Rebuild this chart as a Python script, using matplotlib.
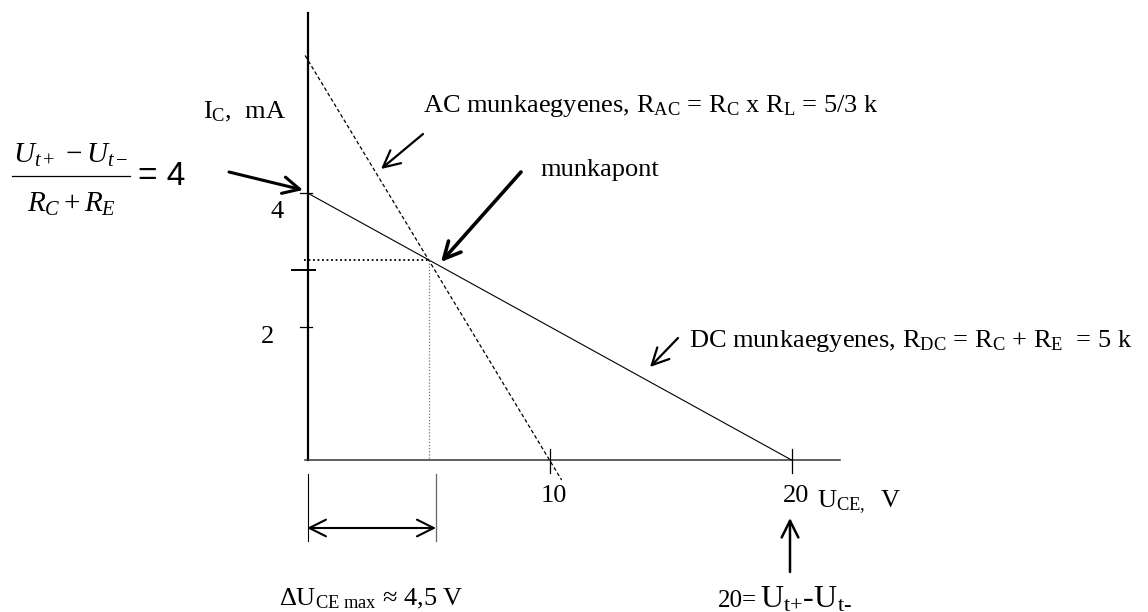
import matplotlib.pyplot as plt
import numpy as np

plt.rcParams['font.family'] = 'Liberation Serif'
plt.rcParams['mathtext.fontset'] = 'custom'
plt.rcParams['mathtext.rm'] = 'Liberation Serif'
plt.rcParams['mathtext.it'] = 'Liberation Serif:italic'

# load lines: U_CE in V, I_C in mA
dc_u = [0, 20]
dc_i = [4, 0]
q_u, q_i = 5, 3          # munkapont
r_ac = 5 / 3             # kOhm
ac_u = [-0.1, 10.5]
ac_i = [q_i - (u - q_u) / r_ac for u in ac_u]

y_ticks = [4, 2]
y_ticklabels = ['4', '2']
x_ticks = [10, 20]
x_ticklabels = ['10', '20']
extra_tick = 2.85        # unlabeled tick next to the Q level

# pixel -> data helper for the annotations
X0, Y0, SX, SY = 307.5, 460, 24.2, 66.75
W, H = 1148, 612


def px(x, y):
    return ((x - X0) / SX, (Y0 - y) / SY)


fig = plt.figure(figsize=(W / 100, H / 100), dpi=100)
ax = fig.add_axes([0, 0, 1, 1])
ax.set_xlim(-X0 / SX, (W - X0) / SX)
ax.set_ylim((Y0 - H) / SY, Y0 / SY)
ax.axis('off')

# axes
ax.plot([0, 0], [0, 6.7], color='black', lw=1.6)
ax.plot([-0.1, 22], [0, 0], color='#333333', lw=1.1)

# ticks
for t, lab in zip(y_ticks, y_ticklabels):
    ax.plot([-0.3, 0.2], [t, t], color='black', lw=0.9)
ax.plot([-0.65, 0.3], [extra_tick, extra_tick], color='black', lw=1.4)
ax.text(*px(277, 212), y_ticklabels[0], fontsize=19, ha='center', va='center')
ax.text(*px(268, 337), y_ticklabels[1], fontsize=19, ha='center', va='center')
for t, lab in zip(x_ticks, x_ticklabels):
    ax.plot([t, t], [0.165, -0.195], color='black', lw=0.9)
    ax.text(t + 0.2, px(0, 502)[1], lab, fontsize=19, ha='center', va='baseline')

# DC and AC load lines
ax.plot(dc_u, dc_i, color='black', lw=0.8)
ax.plot(ac_u, ac_i, color='black', lw=0.9, ls=(0, (3, 2)))

# Q point projections
ax.plot([-0.15, q_u], [q_i, q_i], color='black', lw=1.3, ls=(0, (1, 1.5)))
ax.plot([q_u, q_u], [q_i, 0], color='#777777', lw=0.9, ls=(0, (1, 1.5)))

# axis titles
ax.text(*px(203, 118), r'I$_{\mathrm{C}}$,  mA', fontsize=19, va='baseline')
ax.text(*px(817, 507), r'U$_{\mathrm{CE,}}$  V', fontsize=19, va='baseline')

# labels
ax.text(*px(423, 112),
        r'AC munkaegyenes, R$_{\mathrm{AC}}$ = R$_{\mathrm{C}}$ x R$_{\mathrm{L}}$ = 5/3 k',
        fontsize=19, va='baseline')
ax.text(*px(540, 176), 'munkapont', fontsize=19, va='baseline')
ax.text(*px(689, 347),
        r'DC munkaegyenes, R$_{\mathrm{DC}}$ = R$_{\mathrm{C}}$ + R$_{\mathrm{E}}$  = 5 k',
        fontsize=19, va='baseline')
ax.text(*px(279, 605), r'$\Delta$U$_{\mathrm{CE\ max}}$ ≈ 4,5 V', fontsize=19, va='baseline')
ax.text(*px(757, 607), '20=', fontsize=18, ha='right', va='baseline')
ax.text(*px(760, 607), r'U$_{\text{t+}}$-U$_{\text{t-}}$', fontsize=23, va='baseline')

# formula for the DC line intercept: numerator, bar, denominator
ax.text(*px(71, 163), r'$U_{t+}\,-U_{t-}$', fontsize=21, ha='center', va='baseline')
ax.plot([px(12, 0)[0], px(130, 0)[0]], [px(0, 176)[1]] * 2, color='black', lw=0.9)
ax.text(*px(71, 212), r'$R_C+R_E$', fontsize=21, ha='center', va='baseline')
ax.text(*px(138, 177), '= 4', fontsize=24, family='Liberation Sans', va='center')

# arrows
def arrow(p0, p1, lw, style='->', hl=0.6, hw=0.3):
    ax.annotate('', xy=px(*p1), xytext=px(*p0),
                arrowprops=dict(arrowstyle=f'{style},head_length={hl},head_width={hw}',
                                lw=lw, color='black', shrinkA=0, shrinkB=0,
                                mutation_scale=20))


arrow((229, 172), (303, 190), 2.2)
arrow((423, 134), (381, 169), 1.6)
arrow((521, 172), (441, 262), 2.6)
arrow((678, 338), (650, 367), 1.6)
arrow((790, 572), (790, 518), 1.8)
arrow((307, 528), (436, 528), 1.5, style='<->')

# range markers for delta U
ax.plot([0, 0], [px(0, 474)[1], px(0, 541)[1]], color='black', lw=0.8)
ax.plot([px(436, 0)[0]] * 2, [px(0, 474)[1], px(0, 541)[1]], color='#666666', lw=0.9)

plt.savefig('out.png', dpi=100)
